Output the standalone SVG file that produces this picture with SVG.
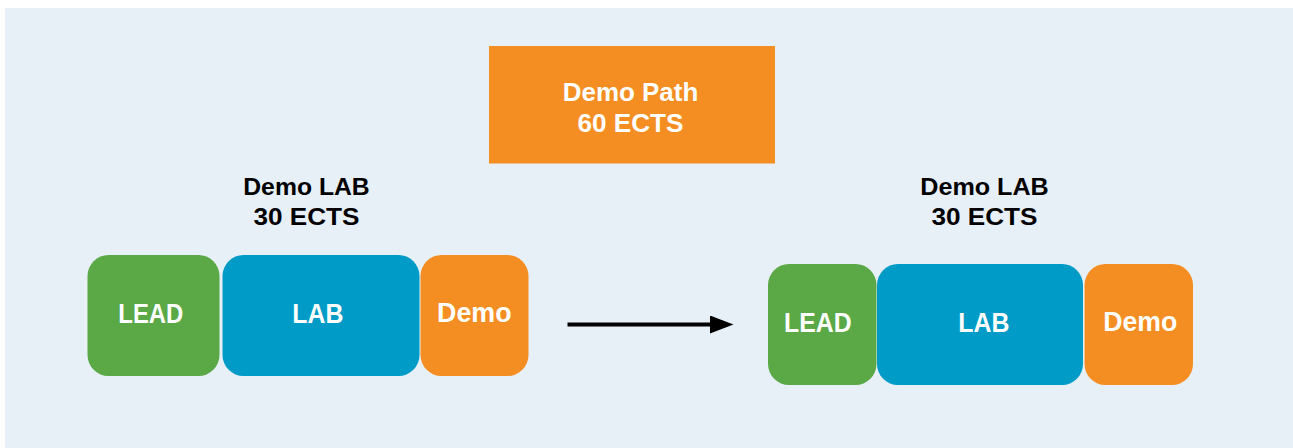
<svg xmlns="http://www.w3.org/2000/svg" width="1293" height="448" viewBox="0 0 1293 448">
  <style>
    .lbl { font-family: "Liberation Sans", Arial, sans-serif; font-weight: bold; fill: #ffffff; }
    .head { font-family: "Liberation Sans", Arial, sans-serif; font-weight: bold; fill: #000000; font-size: 24.5px; }
    .green { fill: #5BA946; }
    .blue { fill: #009BC6; }
    .orange { fill: #F58E22; }
  </style>
  <defs>
    <marker id="arrowhead" markerWidth="24" markerHeight="18" refX="0" refY="9" orient="auto" markerUnits="userSpaceOnUse">
      <polygon points="0,0 23.5,9 0,18" fill="#000000"/>
    </marker>
  </defs>

  <!-- backdrop -->
  <rect x="5" y="8" width="1288" height="440" fill="#E7EFF7"/>

  <!-- top box -->
  <g id="demo-path">
    <rect class="orange" x="489" y="46" width="286" height="117.5"/>
    <text class="lbl" font-size="26" x="630.5" y="100.5" text-anchor="middle" textLength="135.5" lengthAdjust="spacingAndGlyphs">Demo Path</text>
    <text class="lbl" font-size="26" x="630.5" y="131.5" text-anchor="middle" textLength="106" lengthAdjust="spacingAndGlyphs">60 ECTS</text>
  </g>

  <!-- left group heading -->
  <g id="heading-left">
    <text class="head" x="306.5" y="194.5" text-anchor="middle" textLength="126.5" lengthAdjust="spacingAndGlyphs">Demo LAB</text>
    <text class="head" x="306.5" y="224.5" text-anchor="middle" textLength="106" lengthAdjust="spacingAndGlyphs">30 ECTS</text>
  </g>

  <!-- right group heading -->
  <g id="heading-right">
    <text class="head" x="984.5" y="194.5" text-anchor="middle" textLength="128.5" lengthAdjust="spacingAndGlyphs">Demo LAB</text>
    <text class="head" x="984.5" y="224.5" text-anchor="middle" textLength="106" lengthAdjust="spacingAndGlyphs">30 ECTS</text>
  </g>

  <!-- left blocks -->
  <g id="lead-left">
    <rect class="green" x="87.5" y="255" width="132" height="121" rx="21" ry="21"/>
    <text class="lbl" font-size="28" x="150.8" y="322.8" text-anchor="middle" textLength="65" lengthAdjust="spacingAndGlyphs">LEAD</text>
  </g>
  <g id="lab-left">
    <rect class="blue" x="222.5" y="255" width="197" height="121" rx="21" ry="21"/>
    <text class="lbl" font-size="28" x="317.8" y="322.8" text-anchor="middle" textLength="51" lengthAdjust="spacingAndGlyphs">LAB</text>
  </g>
  <g id="demo-left">
    <rect class="orange" x="420.5" y="255" width="108" height="121" rx="21" ry="21"/>
    <text class="lbl" font-size="28" x="474.3" y="322.3" text-anchor="middle" textLength="74.5" lengthAdjust="spacingAndGlyphs">Demo</text>
  </g>

  <!-- right blocks -->
  <g id="lead-right">
    <rect class="green" x="768" y="264" width="108.5" height="121" rx="21" ry="21"/>
    <text class="lbl" font-size="28" x="817.8" y="331.8" text-anchor="middle" textLength="67.5" lengthAdjust="spacingAndGlyphs">LEAD</text>
  </g>
  <g id="lab-right">
    <rect class="blue" x="877" y="264" width="206" height="121" rx="21" ry="21"/>
    <text class="lbl" font-size="28" x="983.8" y="331.8" text-anchor="middle" textLength="51" lengthAdjust="spacingAndGlyphs">LAB</text>
  </g>
  <g id="demo-right">
    <rect class="orange" x="1084.5" y="264" width="108.5" height="121" rx="21" ry="21"/>
    <text class="lbl" font-size="28" x="1140.3" y="331.3" text-anchor="middle" textLength="74" lengthAdjust="spacingAndGlyphs">Demo</text>
  </g>

  <!-- connectors -->
  <g id="connectors">
    <line x1="567.5" y1="324.5" x2="710" y2="324.5" stroke="#000000" stroke-width="4.2" marker-end="url(#arrowhead)"/>
  </g>
</svg>
